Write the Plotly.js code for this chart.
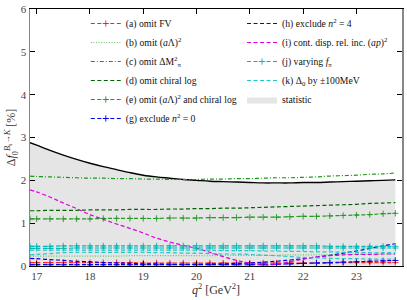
<!DOCTYPE html>
<html><head><meta charset="utf-8">
<script src="https://cdn.plot.ly/plotly-3.0.1.min.js"></script>
<style>html,body{margin:0;padding:0;background:#fff}#plot{width:407px;height:300px}</style>
</head><body><div id="plot"></div>
<script>
const q2 = [16.875, 17.0, 17.25, 17.5, 17.75, 18.0, 18.25, 18.5, 18.75, 19.0, 19.25, 19.5, 19.75, 20.0, 20.25, 20.5, 20.75, 21.0, 21.25, 21.5, 21.75, 22.0, 22.25, 22.5, 22.75, 23.0, 23.25, 23.5, 23.73];
const statistic = [2.88, 2.82, 2.70, 2.59, 2.49, 2.40, 2.32, 2.25, 2.18, 2.12, 2.08, 2.05, 2.02, 2.00, 1.98, 1.97, 1.96, 1.95, 1.94, 1.94, 1.94, 1.95, 1.95, 1.96, 1.97, 1.98, 1.99, 2.00, 2.01];
const omitFV = [0.08, 0.08, 0.08, 0.08, 0.08, 0.08, 0.08, 0.08, 0.08, 0.07, 0.07, 0.07, 0.07, 0.07, 0.07, 0.07, 0.07, 0.07, 0.07, 0.07, 0.07, 0.07, 0.07, 0.07, 0.08, 0.08, 0.08, 0.08, 0.08];
const omitALam2 = [0.23, 0.23, 0.23, 0.23, 0.23, 0.23, 0.23, 0.23, 0.24, 0.24, 0.24, 0.24, 0.24, 0.24, 0.24, 0.25, 0.25, 0.25, 0.25, 0.25, 0.26, 0.26, 0.26, 0.26, 0.27, 0.27, 0.27, 0.28, 0.28];
const omitDM2 = [2.10, 2.09, 2.08, 2.07, 2.06, 2.05, 2.05, 2.04, 2.04, 2.03, 2.03, 2.02, 2.02, 2.02, 2.03, 2.03, 2.04, 2.04, 2.05, 2.06, 2.06, 2.07, 2.08, 2.10, 2.11, 2.12, 2.14, 2.15, 2.17];
const omitChiral = [1.29, 1.29, 1.30, 1.30, 1.30, 1.31, 1.31, 1.31, 1.32, 1.32, 1.32, 1.33, 1.33, 1.34, 1.34, 1.35, 1.35, 1.36, 1.37, 1.38, 1.39, 1.40, 1.41, 1.42, 1.43, 1.44, 1.46, 1.47, 1.48];
const omitBoth = [1.10, 1.10, 1.10, 1.10, 1.10, 1.10, 1.11, 1.11, 1.11, 1.11, 1.11, 1.12, 1.12, 1.12, 1.13, 1.13, 1.13, 1.14, 1.14, 1.14, 1.15, 1.16, 1.16, 1.17, 1.18, 1.19, 1.20, 1.22, 1.23];
const exclN0 = [0.03, 0.03, 0.03, 0.03, 0.03, 0.03, 0.03, 0.03, 0.03, 0.03, 0.03, 0.03, 0.03, 0.03, 0.03, 0.03, 0.03, 0.03, 0.04, 0.04, 0.05, 0.06, 0.07, 0.08, 0.09, 0.10, 0.11, 0.12, 0.13];
const exclN4 = [0.18, 0.17, 0.15, 0.13, 0.11, 0.10, 0.08, 0.07, 0.06, 0.05, 0.05, 0.04, 0.04, 0.04, 0.05, 0.05, 0.06, 0.07, 0.09, 0.11, 0.14, 0.17, 0.21, 0.25, 0.30, 0.35, 0.41, 0.47, 0.52];
const contDisp = [1.78, 1.73, 1.61, 1.47, 1.34, 1.20, 1.09, 0.98, 0.88, 0.77, 0.65, 0.56, 0.48, 0.41, 0.32, 0.22, 0.13, 0.07, 0.02, 0.04, 0.10, 0.16, 0.21, 0.24, 0.26, 0.27, 0.27, 0.28, 0.28];
const fpiUp = [0.46, 0.46, 0.46, 0.47, 0.47, 0.47, 0.47, 0.47, 0.47, 0.47, 0.47, 0.47, 0.47, 0.47, 0.47, 0.47, 0.47, 0.47, 0.47, 0.47, 0.47, 0.47, 0.47, 0.46, 0.46, 0.46, 0.46, 0.46, 0.46];
const fpiDown = [0.41, 0.41, 0.41, 0.41, 0.42, 0.42, 0.42, 0.42, 0.42, 0.42, 0.42, 0.42, 0.42, 0.42, 0.42, 0.42, 0.42, 0.42, 0.42, 0.42, 0.42, 0.42, 0.42, 0.42, 0.42, 0.42, 0.42, 0.42, 0.42];
const delta0Up = [0.37, 0.37, 0.37, 0.37, 0.37, 0.37, 0.37, 0.37, 0.37, 0.37, 0.37, 0.37, 0.37, 0.37, 0.37, 0.36, 0.36, 0.36, 0.35, 0.35, 0.34, 0.34, 0.33, 0.33, 0.32, 0.32, 0.31, 0.31, 0.31];
const delta0Down = [0.26, 0.27, 0.29, 0.31, 0.32, 0.32, 0.32, 0.32, 0.32, 0.32, 0.31, 0.31, 0.30, 0.30, 0.29, 0.28, 0.28, 0.27, 0.25, 0.24, 0.22, 0.20, 0.19, 0.18, 0.17, 0.17, 0.16, 0.16, 0.16];

const F = "Liberation Serif, Times New Roman, serif";
const DASH = "4px,2.5px", DOT = "1px,1.6px", DASHDOT = "4px,2px,1px,2px";
function line(y, name, color, dash, rank, leg, plus, show) {
  const t = {x: q2, y: y, name: name, type: 'scatter', mode: plus ? 'lines+markers' : 'lines',
    line: {color: color, width: 1.2, dash: dash, shape: 'spline'}, legend: leg, legendrank: rank,
    showlegend: show !== false};
  if (plus) t.marker = {symbol: 'cross-thin', size: 4.5, color: color, line: {width: 0.9, color: color}};
  return t;
}
const data = [
  {x: q2, y: statistic, type: 'scatter', mode: 'lines', fill: 'tozeroy', fillcolor: '#e5e5e5',
   line: {width: 0, shape: 'spline'}, name: 'statistic', legend: 'legend2', legendrank: 50},
  {x: q2, y: statistic, type: 'scatter', mode: 'lines', line: {color: '#000', width: 1.4, shape: 'spline'}, showlegend: false},
  line(omitFV, '(a) omit FV', '#ff2020', DASH, 1, 'legend', true),
  line(omitALam2, '(b) omit (<i>a</i>Λ)<sup>2</sup>', '#66c266', DOT, 2, 'legend', false),
  line(omitDM2, '(c) omit ΔM<sup>2</sup><sub>π</sub>', '#1a9a1a', DASHDOT, 3, 'legend', false),
  line(omitChiral, '(d) omit chiral log', '#006400', DASH, 4, 'legend', false),
  line(omitBoth, '(e) omit (<i>a</i>Λ)<sup>2</sup> and chiral log', '#229922', DASH, 5, 'legend', true),
  line(exclN0, '(g) exclude <i>n</i><sup>2</sup> = 0', '#0000ee', DASH, 6, 'legend', true),
  line(exclN4, '(h) exclude <i>n</i><sup>2</sup> = 4', '#0000ee', DASH, 10, 'legend2', false),
  line(contDisp, '(i) cont. disp. rel. inc. (<i>ap</i>)<sup>2</sup>', '#dd00dd', DASH, 11, 'legend2', false),
  line(fpiUp, '(j) varying <i>f</i><sub>π</sub>', '#00b8b8', DASH, 12, 'legend2', true),
  line(fpiDown, 'j2', '#00b8b8', DASH, 12, 'legend2', true, false),
  line(delta0Up, '(k) Δ<sub>0</sub> by ±100MeV', '#20c8c8', DASH, 13, 'legend2', false),
  line(delta0Down, 'k2', '#20c8c8', DASH, 13, 'legend2', false, false)
];
const legBase = {bgcolor: 'rgba(0,0,0,0)', borderwidth: 0, font: {family: F, size: 9.7, color: '#111'},
  yanchor: 'top', xanchor: 'left', y: 1.0, itemwidth: 30, tracegroupgap: 0};
const layout = {
  width: 407, height: 300, margin: {l: 30, r: 5, t: 9, b: 34},
  paper_bgcolor: '#fff', plot_bgcolor: '#fff', font: {family: F, size: 11, color: '#333'},
  xaxis: {range: [16.875, 23.855], dtick: 1, tick0: 17, ticks: 'inside', ticklen: 5, tickcolor: '#000',
    mirror: 'ticks', showline: true, linecolor: '#000', linewidth: 1, showgrid: false, zeroline: false,
    tickfont: {family: F, size: 11, color: '#444'},
    title: {text: '<i>q</i><sup>2</sup> [GeV<sup>2</sup>]', font: {family: F, size: 12, color: '#333'}, standoff: 4}},
  yaxis: {range: [0, 6], dtick: 1, ticks: 'inside', ticklen: 5, tickcolor: '#000',
    mirror: 'ticks', showline: true, linecolor: '#888', linewidth: 1.5, showgrid: false, zeroline: false,
    tickfont: {family: F, size: 11, color: '#444'},
    title: {text: 'Δ<i>f</i><sub>0</sub><sup><i>B<sub>s</sub></i>→<i>K</i></sup> [%]', font: {family: F, size: 12, color: '#333'}, standoff: 2}},
  legend: Object.assign({}, legBase, {x: 0.150}),
  legend2: Object.assign({}, legBase, {x: 0.570}),
  showlegend: true
};
Plotly.newPlot('plot', data, layout, {displayModeBar: false, staticPlot: true});
</script></body></html>
